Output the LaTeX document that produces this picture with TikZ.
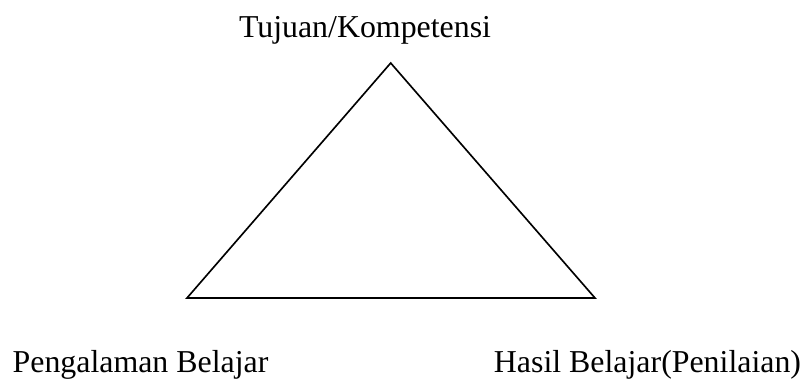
\documentclass[tikz,border=0pt]{standalone}
\usepackage{fontspec}
\setmainfont{Liberation Serif}
\usetikzlibrary{positioning}

\begin{document}
\begin{tikzpicture}[x=0.03cm,y=-0.03cm,
lab/.style={font=\fontsize{27.2}{32}\selectfont,anchor=base,inner sep=0pt},
sisi/.style={draw=black,line width=1.4pt,line join=miter}]
\useasboundingbox (0,0) rectangle (809,378);
\coordinate (puncak) at (390.7,63);
\coordinate (kiri) at (187,298);
\coordinate (kanan) at (595,298);
\draw[sisi] (puncak)--(kiri)--(kanan)--cycle;
\node[lab] (tujuan) at (365,37) {Tujuan/Kompetensi};
\node[lab] (pengalaman) at (140.5,372) {Pengalaman Belajar};
\node[lab] (hasil) at (647.5,372) {Hasil Belajar(Penilaian)};
\end{tikzpicture}
\end{document}
